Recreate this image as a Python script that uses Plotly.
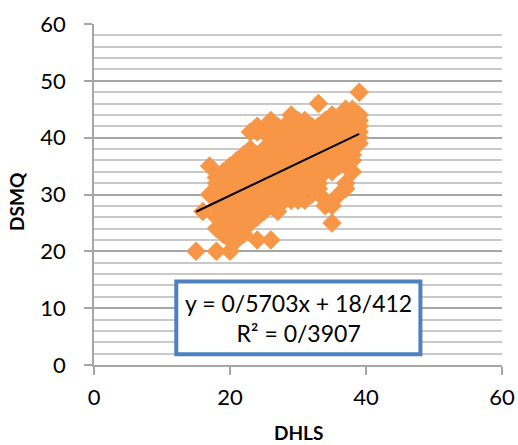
import plotly.graph_objects as go

FONT = "Lato, Carlito, Calibri, sans-serif"
# y values, per integer DHLS value
dhls_values = list(range(15, 40))
dsmq_by_dhls = [
    [20],
    [27],
    [30, 35],
    [20, 24, 26, 28, 30, 32, 33],
    [23, 25, 26, 27, 28, 29, 30, 31, 32, 33, 34],
    [20, 22, 24, 25, 26, 27, 28, 29, 30, 31, 32, 33, 34, 35],
    [22, 23, 24, 25, 26, 27, 28, 29, 30, 31, 32, 33, 34, 35, 36],
    [23, 24, 25, 26, 27, 28, 29, 30, 31, 32, 33, 34, 35, 36, 37],
    [25, 26, 27, 28, 29, 30, 31, 32, 33, 34, 35, 36, 37, 38, 41],
    [22, 26, 27, 28, 29, 30, 32, 33, 34, 35, 36, 37, 41, 42],
    [27, 28, 29, 33, 34, 35, 36, 37, 38, 41],
    [22, 28, 29, 30, 31, 32, 33, 34, 35, 36, 37, 38, 39, 40, 41, 43],
    [27, 28, 29, 30, 31, 32, 33, 34, 35, 36, 37, 38, 39, 40, 41, 42],
    [29, 30, 31, 32, 33, 34, 35, 36, 37, 38, 39, 40, 41, 42],
    [29, 30, 31, 32, 33, 34, 35, 36, 37, 38, 39, 40, 41, 42, 44],
    [29, 30, 31, 32, 33, 34, 35, 36, 37, 38, 39, 40, 41, 42, 43],
    [29, 30, 31, 32, 33, 34, 35, 36, 37, 38, 39, 40, 41, 42, 43],
    [30, 31, 32, 33, 34, 35, 36, 37, 38, 39, 40, 41, 42],
    [31, 32, 33, 34, 35, 36, 37, 38, 39, 40, 41, 42, 46],
    [28, 29, 34, 35, 36, 37, 38, 39, 40, 41, 42, 43],
    [25, 28, 34, 35, 36, 37, 38, 39, 40, 41, 42, 44],
    [30, 35, 36, 37, 38, 39, 40, 41, 42, 43],
    [31, 32, 35, 36, 37, 38, 39, 40, 41, 42, 43, 44, 45],
    [34, 36, 37, 38, 39, 40, 41, 42, 43, 45],
    [39, 40, 41, 42, 43, 44, 48],
]
slope = 0.5703
intercept = 18.412
trend_x = [15, 39]
x_ticks = [0, 20, 40, 60]
y_ticks = [0, 10, 20, 30, 40, 50, 60]
xs = [x for x, col in zip(dhls_values, dsmq_by_dhls) for _ in col]
ys = [y for col in dsmq_by_dhls for y in col]

fig = go.Figure()
fig.add_trace(go.Scatter(x=xs, y=ys, mode="markers",
    marker=dict(symbol="diamond", size=15, color="#F79646", line=dict(width=0)), showlegend=False))
fig.add_trace(go.Scatter(x=trend_x, y=[slope * x + intercept for x in trend_x], mode="lines",
    line=dict(color="black", width=2), showlegend=False))
fig.update_layout(
    width=518, height=445, margin=dict(l=93.5, r=15.5, t=23.5, b=80),
    paper_bgcolor="white", plot_bgcolor="white", font=dict(family=FONT, color="black", size=22),
    xaxis=dict(range=[0, 60], tickvals=x_ticks, ticks="outside", ticklen=8, tickcolor="#a6a6a6", tickwidth=1.5,
               showgrid=False, showline=True, linecolor="#a6a6a6", linewidth=1.5, zeroline=False,
               tickfont=dict(size=22), automargin=False, ticklabelstandoff=4),
    yaxis=dict(range=[0, 60], tickvals=y_ticks, ticks="outside", ticklen=8, tickcolor="#a6a6a6", tickwidth=1.5,
               gridcolor="#a6a6a6", gridwidth=1.5, showline=True, linecolor="#a6a6a6", linewidth=1.5, zeroline=False,
               tickfont=dict(size=22), automargin=False, ticklabelstandoff=14,
               minor=dict(dtick=2, tick0=0, showgrid=True, gridcolor="#c9c9c9", gridwidth=1.5, ticks="")),
    shapes=[dict(type="rect", xref="x", yref="y", x0=12.1, x1=48, y0=1.9, y1=14.7,
                 line=dict(color="#4F81BD", width=4), fillcolor="white", layer="above")],
    annotations=[
        dict(x=30, y=8.3, xref="x", yref="y", showarrow=False, align="center",
             text="y = 0/5703x + 18/412<br>R² = 0/3907", font=dict(size=23, family=FONT)),
        dict(xref="paper", yref="paper", x=(16-93.5)/409, y=(365-201)/341.5, xanchor="center", yanchor="middle",
             showarrow=False, text="<b>DSMQ</b>", textangle=-90, font=dict(size=19, family=FONT)),
        dict(xref="paper", yref="paper", x=0.5, y=(365-433)/341.5, xanchor="center", yanchor="middle",
             showarrow=False, text="<b>DHLS</b>", font=dict(size=19, family=FONT)),
    ],
)
fig.write_html("out.html", config={"displayModeBar": False},
               post_script="document.body.style.margin='0';window.dispatchEvent(new Event('resize'));")
